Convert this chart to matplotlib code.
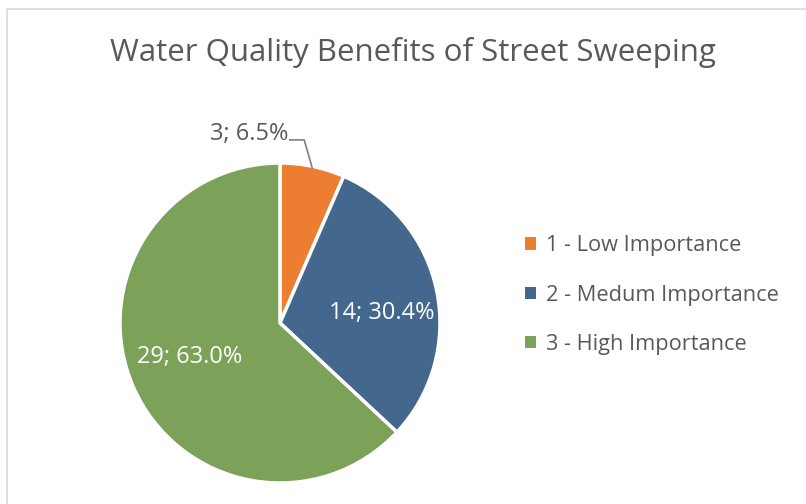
import numpy as np
import matplotlib
matplotlib.use("Agg")
from matplotlib import pyplot as plt
from matplotlib.lines import Line2D
from matplotlib.patches import Patch

categories = ["1 - Low Importance", "2 - Medum Importance", "3 - High Importance"]
counts = [3, 14, 29]
colors = ["#ED7D31", "#44678D", "#7BA258"]
title = "Water Quality Benefits of Street Sweeping"

plt.rcParams['font.family'] = ['Open Sans', 'DejaVu Sans']
txt_color = "#595959"

fig = plt.figure(figsize=(8.06, 5.04), dpi=100)
W, H = 806, 504

# chart frame (cropped: only left and top edges visible)
fig.add_artist(Line2D([7 / W, 7 / W, 1], [0, 1 - 9 / H, 1 - 9 / H], color="#D9D9D9", lw=1.2))

fig.text(413 / W, 1 - 52 / H, title, ha="center", va="center", fontsize=22.5, color=txt_color)

ax = fig.add_axes([120 / W, (H - 483) / H, 320 / W, 320 / H])
wedges, _ = ax.pie(counts, colors=colors, startangle=90, counterclock=False,
                   wedgeprops=dict(edgecolor="white", linewidth=2.5))
ax.set_xlim(-1, 1)
ax.set_ylim(-1, 1)
ax.set_aspect("equal")
ax.axis("off")

total = sum(counts)
labels = ["%d; %.1f%%" % (c, c / total * 100) for c in counts]
dists = [None, 0.64, 0.6]
shifts = [0, -6, -3]  # degrees, nudge label off the wedge middle
for i, w in enumerate(wedges):
    ang = np.deg2rad((w.theta1 + w.theta2) / 2 + shifts[i])
    if i == 0:
        # leader line: edge of wedge -> elbow -> short horizontal -> label
        ex, ey = np.cos(ang) * 0.99, np.sin(ang) * 0.99
        cx, cy = ex - 0.05, ey + 0.175
        sx = cx - 0.09
        ax.plot([ex, cx, sx], [ey, cy, cy], color="#7F7F7F", lw=1.2, clip_on=False)
        ax.text(sx - 0.01, cy + 0.035, labels[i], ha="right", va="center",
                fontsize=17, color=txt_color)
    else:
        d = dists[i]
        ax.text(np.cos(ang) * d, np.sin(ang) * d, labels[i], ha="center", va="center",
                fontsize=17, color="white")

handles = [Patch(facecolor=c, edgecolor="none") for c in colors]
fig.legend(handles, categories, loc="center left", bbox_to_anchor=(505 / W, 1 - 295 / H),
           frameon=False, fontsize=15.7, labelcolor=txt_color, handlelength=0.5, handleheight=0.5,
           handletextpad=0.5, labelspacing=1.3)

fig.savefig("out.png", dpi=100)
